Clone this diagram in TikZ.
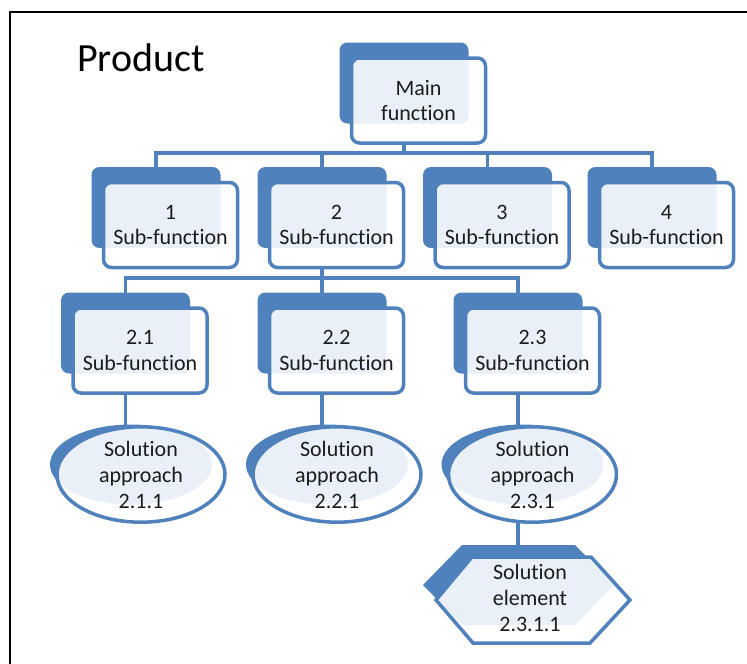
\documentclass[tikz,border=0pt]{standalone}
\usepackage{fontspec}
\setmainfont[Ligatures=NoCommon]{Carlito}
\usetikzlibrary{shapes.geometric,backgrounds}
\definecolor{ofblue}{HTML}{4F81BD}
\definecolor{oflight}{HTML}{EAF0F8}
\definecolor{txt}{HTML}{1C1C1C}
\tikzset{
 backbox/.style={rectangle, rounded corners=8pt, fill=ofblue, minimum width=129pt, minimum height=81pt, inner sep=0pt},
 frontbox/.style={rectangle, rounded corners=8pt, draw=ofblue, line width=3.5pt, fill=white, minimum width=134pt, minimum height=85pt, inner sep=0pt, align=center, text=txt, font=\fontsize{22}{25.5}\selectfont},
 backell/.style={ellipse, fill=ofblue, minimum width=162pt, minimum height=80pt, inner sep=0pt},
 frontell/.style={ellipse, draw=ofblue, line width=3.5pt, fill=white, minimum width=168pt, minimum height=81pt, inner sep=0pt, align=center, text=txt, font=\fontsize{22}{26}\selectfont},
 conn/.style={draw=ofblue, line width=3.5pt},
 hexline/.style={draw=ofblue, line width=3.5pt, line join=miter},
 hextext/.style={align=center, text=txt, font=\fontsize{22}{26}\selectfont, inner sep=0pt},
}
\newcommand\fnbox[4]{%
 \node[backbox] (#1b) at (#2,#3) {};
 \node[frontbox, path picture={\fill[oflight, rounded corners=7pt] (#1b.north west) rectangle (#1b.south east);}] (#1) at ({#2+14.5},{#3+17.5}) {#4};
}
\newcommand\soln[4]{%
 \node[backell] (#1b) at ({#2-10},{#3-10}) {};
 \node[frontell, path picture={\fill[oflight] (#1b.center) ellipse [x radius=81pt, y radius=40pt];}] (#1) at (#2,#3) {#4};
}
\begin{document}
\begin{tikzpicture}[x=1pt,y=-1pt]
\useasboundingbox (0,0) rectangle (747,664);
\draw[line width=2pt, black] (10,664) -- (10,12) -- (747,12);
\node[anchor=base west, font=\fontsize{40}{44}\selectfont, text=black, inner sep=0pt] (title) at (77,71) {Product};

\coordinate (bus1) at (0,153);
\coordinate (bus2) at (0,278);

\fnbox{main}{404}{83}{Main\\function}
\fnbox{s1}{156}{207.5}{1\\Sub-function}
\fnbox{s2}{322}{207.5}{2\\Sub-function}
\fnbox{s3}{487.5}{207.5}{3\\Sub-function}
\fnbox{s4}{652}{207.5}{4\\Sub-function}
\fnbox{s21}{125.5}{333}{2.1\\Sub-function}
\fnbox{s22}{322}{333}{2.2\\Sub-function}
\fnbox{s23}{518}{333}{2.3\\Sub-function}

\soln{e211}{141}{474.5}{Solution\\approach\\2.1.1}
\soln{e221}{337}{474.5}{Solution\\approach\\2.2.1}
\soln{e231}{532.5}{474.5}{Solution\\approach\\2.3.1}

% hexagon
\fill[ofblue] (423,585) -- (462,545) -- (575,545) -- (614,585) -- (575,625) -- (462,625) -- cycle;
\fill[white] (436,600) -- (472,557) -- (591,557) -- (630,600) -- (590,643) -- (473,643) -- cycle;
\begin{scope}
\clip (436,600) -- (472,557) -- (591,557) -- (630,600) -- (590,643) -- (473,643) -- cycle;
\fill[oflight] (423,585) -- (462,545) -- (575,545) -- (614,585) -- (575,625) -- (462,625) -- cycle;
\end{scope}
\draw[hexline] (436,600) -- (472,557) -- (591,557) -- (630,600) -- (590,643) -- (473,643) -- cycle;
\node[hextext] (hex) at (530,598) {Solution\\element\\2.3.1.1};

\begin{pgfonlayer}{background}
\draw[conn] (mainb.center) -- (mainb.center |- bus1) -| (s1b.center);
\draw[conn] (mainb.center |- bus1) -| (s2b.center);
\draw[conn] (mainb.center |- bus1) -| (s3b.center);
\draw[conn] (mainb.center |- bus1) -| (s4b.center);
\draw[conn] (s2b.center) -- (s2b.center |- bus2) -| (s21b.center);
\draw[conn] (s2b.center |- bus2) -- (s22b.center);
\draw[conn] (s2b.center |- bus2) -| (s23b.center);
\draw[conn] (s21b.center) -- (s21b.center |- e211.center);
\draw[conn] (s22b.center) -- (s22b.center |- e221.center);
\draw[conn] (s23b.center) -- (s23b.center |- e231.center);
\draw[conn] (s23b.center |- e231.center) -- (s23b.center |- hex.center);
\end{pgfonlayer}
\end{tikzpicture}
\end{document}
